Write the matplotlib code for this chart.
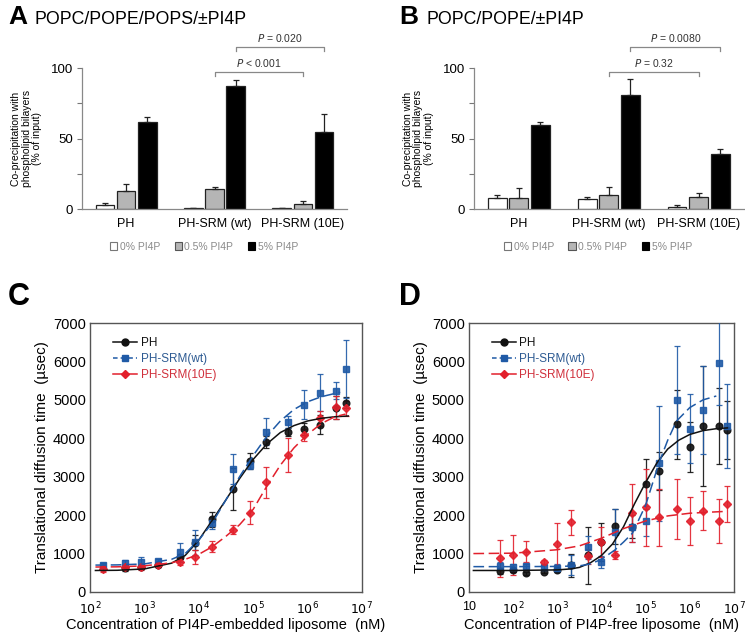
import numpy as np
import matplotlib
matplotlib.use("Agg")
import matplotlib.pyplot as plt
from matplotlib.patches import Patch
from matplotlib.lines import Line2D

plt.rcParams['font.family'] = ['Liberation Sans', 'DejaVu Sans']

# Panels A/B: co-precipitation (% of input)
grupos = ['PH', 'PH-SRM (wt)', 'PH-SRM (10E)']
series_pi4p = ['0% PI4P', '0.5% PI4P', '5% PI4P']

a_0 = [3.1, 1.2, 1.2]
a_0_err = [1.4, 0, 0]
a_05 = [12.8, 14.0, 3.6]
a_05_err = [5.4, 1.6, 1.9]
a_5 = [62, 87.7, 54.5]
a_5_err = [3.2, 4.0, 13.3]

b_0 = [7.6, 6.9, 1.9]
b_0_err = [2.8, 1.9, 0.9]
b_05 = [7.6, 10.4, 8.8]
b_05_err = [7.6, 5.0, 2.8]
b_5 = [59.7, 81.3, 39.3]
b_5_err = [1.9, 11.4, 3.6]

# Panel C: PI4P-embedded liposome (nM)
c_conc = [174, 435, 870, 1780, 4500, 8700, 17800, 43000, 87000, 175000,
          430000, 850000, 1.7e6, 3.4e6, 5.1e6]
c_ph = [np.nan, 625, 640, 700, 920, 1280, 1890, 2680, 3410, 3900,
        4170, 4240, 4350, 4800, 4930]
c_ph_err = [np.nan, 90, 50, 40, 60, 200, 200, 550, 200, 150, 100, 150, 250, 300, 150]
c_wt = [700, 755, 790, 805, 1030, 1290, 1800, 3200, 3300, 4170,
        4420, 4870, 5190, 5240, 5800]
c_wt_err = [50, 80, 120, 60, 250, 330, 150, 400, 100, 350, 150, 380, 480, 230, 750]
c_10e = [600, 650, 640, 700, 790, 920, 1180, 1620, 2065, 2850,
         3570, 4090, 4520, 4810, 4780]
c_10e_err = [80, 60, 60, 50, 100, 180, 150, 120, 300, 400, 450, 150, 200, 300, 200]

# fitted curves (log10 conc, value)
cfit_ph_x = [2.1, 2.5, 3, 3.5, 3.75, 4, 4.25, 4.5, 4.75, 5, 5.25, 5.5, 5.75, 6, 6.25, 6.5, 6.75]
cfit_ph_y = [560, 565, 600, 750, 950, 1350, 1870, 2400, 2950, 3450, 3850, 4150, 4330, 4450, 4520, 4560, 4580]
cfit_wt_x = [2.1, 2.5, 3, 3.5, 3.75, 4, 4.25, 4.5, 4.75, 5, 5.25, 5.5, 5.75, 6, 6.25, 6.6]
cfit_wt_y = [700, 705, 730, 850, 1000, 1350, 1800, 2400, 3000, 3550, 4050, 4450, 4750, 4950, 5080, 5200]
cfit_10e_x = [2.1, 2.5, 3, 3.5, 3.75, 4, 4.25, 4.5, 4.75, 5, 5.25, 5.5, 5.75, 6, 6.25, 6.5, 6.7]
cfit_10e_y = [650, 655, 680, 760, 850, 980, 1180, 1450, 1750, 2150, 2750, 3300, 3750, 4100, 4380, 4560, 4630]

# Panel D: PI4P-free liposome (nM)
d_conc = [50, 100, 200, 500, 1000, 2000, 5000, 1e4, 2e4, 5e4, 1e5, 2e5,
          5e5, 1e6, 2e6, 4.5e6, 7e6]
d_ph = [540, 570, 490, 530, 580, 690, 950, 1300, 1710, 1700, 2800, 3150,
        4360, 3780, 4320, 4320, 4215]
d_ph_err = [80, 60, 40, 40, 40, 300, 730, 500, 450, 300, 650, 500, 900, 650, 1550, 1000, 750]
d_wt = [670, 660, 670, 650, 620, 700, 1170, 780, 1570, 1690, 1850, 3350,
        5000, 4250, 4740, 5960, 4320]
d_wt_err = [100, 60, 60, 60, 100, 250, 300, 150, 600, 400, 400, 1500, 1400, 900, 1150, 1100, 1100]
d_10e = [880, 970, 1050, 770, 1250, 1810, 930, 1300, 970, 2060, 2200, 1940,
         2160, 1850, 2120, 1850, 2290]
d_10e_err = [480, 520, 280, 60, 540, 330, 200, 400, 100, 750, 1000, 750, 780, 620, 500, 570, 480]

dfit_ph_x = [1.1, 2, 3, 3.3, 3.5, 3.75, 4, 4.25, 4.5, 4.75, 5, 5.25, 5.5, 5.75, 6, 6.3, 6.6, 6.85]
dfit_ph_y = [560, 560, 575, 600, 640, 760, 950, 1250, 1700, 2300, 2850, 3350, 3720, 3950, 4100, 4200, 4250, 4270]
dfit_wt_x = [1.1, 2, 3, 3.5, 3.75, 4, 4.3, 4.5, 4.7, 5, 5.3, 5.5, 5.7, 6, 6.3, 6.6]
dfit_wt_y = [660, 660, 665, 680, 730, 850, 1090, 1300, 1530, 2260, 3350, 3950, 4450, 4800, 5000, 5100]
dfit_10e_x = [1.1, 2, 3, 3.5, 4, 4.5, 5, 5.5, 6, 6.5, 6.85]
dfit_10e_y = [1000, 1010, 1100, 1200, 1400, 1650, 1850, 1980, 2050, 2080, 2100]

NEGRO = '#111111'
AZUL = '#1f5aa6'
ROJO = '#e2202c'
GRIS_BARRA = '#b5b5b5'

fig = plt.figure(figsize=(7.45, 6.32), dpi=100)


def panel_barras(ax, v0, e0, v05, e05, v5, e5, pvals):
    x = np.arange(len(grupos))
    off = 0.24
    w = 0.21
    kw = dict(capsize=2.5, error_kw=dict(elinewidth=0.9, capthick=0.9, ecolor='#222222'))
    for dx, vals, errs, col in [(-off, v0, e0, 'white'), (0, v05, e05, GRIS_BARRA), (off, v5, e5, 'black')]:
        ax.bar(x + dx, vals, w, color=col, edgecolor='#222222', linewidth=0.9,
               yerr=[np.zeros(3), errs], **kw)
    ax.set_xlim(-0.5, 2.5)
    ax.set_ylim(0, 100)
    ax.set_yticks([0, 25, 50, 75, 100])
    ax.set_yticklabels(['0', '', '50', '', '100'], fontsize=9.5)
    ax.set_xticks(x)
    ax.set_xticklabels(grupos, fontsize=9)
    ax.tick_params(axis='x', length=0, pad=6)
    ax.tick_params(axis='y', length=3.5, width=0.8, color='#777777', pad=3)
    for s in ['top', 'right']:
        ax.spines[s].set_visible(False)
    for s in ['left', 'bottom']:
        ax.spines[s].set_color('#888888')
        ax.spines[s].set_linewidth(0.9)
    ax.set_ylabel('Co-precipitation with\nphospholipid bilayers\n(% of input)',
                  fontsize=7.5, linespacing=1.1, labelpad=6)
    # significance brackets
    for xa, xb, yy, t in pvals:
        ax.plot([xa, xa, xb, xb], [yy - 3, yy, yy, yy - 3], color='#888888',
                lw=0.9, clip_on=False)
        ax.text((xa + xb) / 2, yy + 2.2, t, ha='center', va='bottom',
                fontsize=7.5, color='#333333')
    handles = [Patch(facecolor='white', edgecolor='#777777', linewidth=0.8),
               Patch(facecolor=GRIS_BARRA, edgecolor='#555555', linewidth=0.8),
               Patch(facecolor='black', edgecolor='black', linewidth=0.8)]
    ax.legend(handles, series_pi4p, loc='center', bbox_to_anchor=(0.46, -0.265),
              ncol=3, frameon=False, fontsize=7.5, labelcolor='#8a8a8a',
              handlelength=0.7, handleheight=0.7, handletextpad=0.25,
              columnspacing=1.4)


axA = fig.add_axes([0.110, 0.669, 0.356, 0.223])
panel_barras(axA, a_0, a_0_err, a_05, a_05_err, a_5, a_5_err,
             [(1, 2, 97.2, r'$\it{P}$ < 0.001'), (1.24, 2.24, 115, r'$\it{P}$ = 0.020')])
axB = fig.add_axes([0.636, 0.669, 0.362, 0.223])
panel_barras(axB, b_0, b_0_err, b_05, b_05_err, b_5, b_5_err,
             [(1, 2, 97.2, r'$\it{P}$ = 0.32'), (1.24, 2.24, 115, r'$\it{P}$ = 0.0080')])


def panel_curvas(ax, conc, datos, ajustes, xlim, xticks, xticklabels, xlabel):
    estilos = [(NEGRO, 'o', 4.8), (AZUL, 's', 4.6), (ROJO, 'D', 3.8)]
    for (vals, errs), (col, mk, ms) in zip(datos, estilos):
        ax.errorbar(conc, vals, yerr=errs, fmt=mk, color=col, ms=ms, mec=col,
                    elinewidth=0.9, capsize=2, capthick=0.9, alpha=0.9, zorder=3)
    lss = ['-', (0, (7, 3)), (0, (7, 3))]
    for (fx, fy), (col, mk, ms), ls in zip(ajustes, estilos, lss):
        ax.plot(10 ** np.array(fx), fy, color=col, lw=1.1, ls=ls, zorder=4)
    ax.set_xscale('log')
    ax.set_xlim(*xlim)
    ax.set_ylim(0, 7000)
    ax.set_yticks(np.arange(0, 7001, 1000))
    ax.tick_params(axis='y', labelsize=10.5, length=0, pad=3)
    ax.set_xticks(xticks)
    ax.set_xticklabels(xticklabels)
    ax.tick_params(axis='x', labelsize=9, length=0, pad=6.5)
    ax.minorticks_off()
    for s in ax.spines.values():
        s.set_color('#555555')
        s.set_linewidth(1.0)
    ax.set_ylabel('Translational diffusion time  (\u00b5sec)', fontsize=11, labelpad=3)
    ax.set_xlabel(xlabel, fontsize=10.5, labelpad=0)
    h = [Line2D([], [], color=NEGRO, marker='o', ms=5, ls='-', lw=1.1),
         Line2D([], [], color=AZUL, marker='s', ms=5, ls=(0, (3, 2)), lw=1.1),
         Line2D([], [], color=ROJO, marker='D', ms=4, ls='-', lw=1.1)]
    ax.legend(h, ['PH', 'PH-SRM(wt)', 'PH-SRM(10E)'], loc='upper left',
              bbox_to_anchor=(0.06, 0.975), frameon=False, fontsize=8.5,
              labelcolor=[NEGRO, '#2d5a92', '#d0303c'], handlelength=2.0,
              handletextpad=0.3, labelspacing=0.35, borderaxespad=0.2)


axC = fig.add_axes([0.1208, 0.0633, 0.365, 0.4256])
panel_curvas(axC, c_conc,
             [(c_ph, c_ph_err), (c_wt, c_wt_err), (c_10e, c_10e_err)],
             [(cfit_ph_x, cfit_ph_y), (cfit_wt_x, cfit_wt_y), (cfit_10e_x, cfit_10e_y)],
             (1e2, 1e7), [1e2, 1e3, 1e4, 1e5, 1e6, 1e7],
             [r'$10^2$', r'$10^3$', r'$10^4$', r'$10^5$', r'$10^6$', r'$10^7$'],
             'Concentration of PI4P-embedded liposome  (nM)')

axD = fig.add_axes([0.6295, 0.0633, 0.3557, 0.4256])
panel_curvas(axD, d_conc,
             [(d_ph, d_ph_err), (d_wt, d_wt_err), (d_10e, d_10e_err)],
             [(dfit_ph_x, dfit_ph_y), (dfit_wt_x, dfit_wt_y), (dfit_10e_x, dfit_10e_y)],
             (1e1, 1e7), [1e1, 1e2, 1e3, 1e4, 1e5, 1e6, 1e7],
             ['10', r'$10^2$', r'$10^3$', r'$10^4$', r'$10^5$', r'$10^6$', r'$10^7$'],
             'Concentration of PI4P-free liposome  (nM)')

# panel letters and titles
fig.text(8 / 745, 1 - 24 / 632, 'A', fontsize=19, fontweight='bold', va='baseline')
fig.text(35 / 745, 1 - 24 / 632, 'POPC/POPE/POPS/\u00b1PI4P', fontsize=12.8, va='baseline')
fig.text(399 / 745, 1 - 24 / 632, 'B', fontsize=19, fontweight='bold', va='baseline')
fig.text(427 / 745, 1 - 24 / 632, 'POPC/POPE/\u00b1PI4P', fontsize=12.8, va='baseline')
fig.text(8 / 745, 1 - 305 / 632, 'C', fontsize=22, fontweight='bold', va='baseline')
fig.text(399 / 745, 1 - 305 / 632, 'D', fontsize=22, fontweight='bold', va='baseline')

fig.savefig('out.png', dpi=100)
